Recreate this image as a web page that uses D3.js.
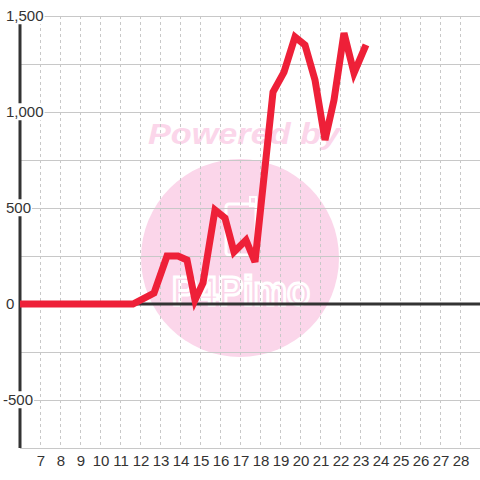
<!DOCTYPE html>
<html>
<head>
<meta charset="utf-8">
<script src="https://cdn.jsdelivr.net/npm/d3@7"></script>
<style>
  body { margin: 0; background: #fff; }
  svg { display: block; font-family: "Liberation Sans", Arial, sans-serif; }
</style>
</head>
<body>
<script>
// data
var xs   = [6, 11.65, 12.7, 13.35, 13.9, 14.35, 14.75, 15.15, 15.75, 16.25, 16.7, 17.3, 17.75,
            18.65, 19.2, 19.75, 20.25, 20.75, 21.25, 21.7, 22.2, 22.7, 23.3];
var vals = [0, 0, 57, 250, 250, 229, 20, 109, 490, 448, 271, 333, 219,
            1104, 1208, 1391, 1349, 1167, 854, 1062, 1411, 1203, 1349];
var xTicks = d3.range(7, 29);              // 7 .. 28
var yLabels = [1500, 1000, 500, 0, -500];
var yGrid = d3.range(-750, 1501, 250);

var width = 480, height = 480;

var svg = d3.select("body").append("svg")
  .attr("width", width)
  .attr("height", height);

var x = d3.scaleLinear().domain([6, 29]).range([20, 480]);
var y = d3.scaleLinear().domain([-750, 1500]).range([448, 16]);

// watermark
var wm = svg.append("g");
wm.append("circle").attr("cx", 240).attr("cy", 258).attr("r", 99).attr("fill", "#fbd6ea");
wm.append("text")
  .attr("x", 148).attr("y", 144)
  .attr("textLength", 192).attr("lengthAdjust", "spacingAndGlyphs")
  .style("font-size", "29px").style("font-weight", "bold").style("font-style", "italic")
  .attr("fill", "#fbd6ea")
  .text("Powered by");
wm.append("rect").attr("x", 226).attr("y", 204).attr("width", 30).attr("height", 51).attr("rx", 3)
  .attr("fill", "none").attr("stroke", "#fff").attr("stroke-width", 3);
wm.append("rect").attr("x", 250).attr("y", 197).attr("width", 6).attr("height", 9)
  .attr("fill", "none").attr("stroke", "#fff").attr("stroke-width", 2);
wm.append("text")
  .attr("x", 172).attr("y", 305)
  .attr("textLength", 138).attr("lengthAdjust", "spacingAndGlyphs")
  .style("font-size", "40px").style("font-weight", "bold")
  .attr("fill", "none").attr("stroke", "#fff").attr("stroke-width", 3)
  .text("P4Pimo");

// grid
svg.append("g").selectAll("line")
  .data(yGrid)
  .enter().append("line")
  .attr("x1", 20).attr("x2", 480)
  .attr("y1", function (d) { return y(d) + 0.5; })
  .attr("y2", function (d) { return y(d) + 0.5; })
  .attr("stroke", "#c8c8c8");

svg.append("g").selectAll("line")
  .data(xTicks)
  .enter().append("line")
  .attr("x1", function (d) { return x(d) + 0.5; })
  .attr("x2", function (d) { return x(d) + 0.5; })
  .attr("y1", 16).attr("y2", 448)
  .attr("stroke", "#c8c8c8")
  .attr("stroke-dasharray", "3,3");

// axes lines
svg.append("line")
  .attr("x1", x(6)).attr("x2", x(6)).attr("y1", 16).attr("y2", 448)
  .attr("stroke", "#333").attr("stroke-width", 3);
svg.append("line")
  .attr("x1", 20).attr("x2", 480).attr("y1", y(0)).attr("y2", y(0))
  .attr("stroke", "#333").attr("stroke-width", 3);

// y labels with white boxes
var fmt = d3.format(",");
var yl = svg.append("g").selectAll("g")
  .data(yLabels)
  .enter().append("g")
  .attr("transform", function (d) { return "translate(" + (d < 0 ? 3 : 6) + "," + y(d) + ")"; });
yl.append("text")
  .attr("dy", "0.35em")
  .style("font-size", "15px")
  .attr("fill", "#333")
  .text(function (d) { return fmt(d).replace("\u2212", "-"); })
  .each(function () {
    var b = this.getBBox();
    d3.select(this.parentNode).insert("rect", "text")
      .attr("x", b.x - 1).attr("y", b.y)
      .attr("width", b.width + 2).attr("height", b.height)
      .attr("fill", "#fff");
  });

// x labels
svg.append("g").selectAll("text")
  .data(xTicks)
  .enter().append("text")
  .attr("x", function (d) { return x(d) + 1; })
  .attr("y", 466)
  .attr("text-anchor", "middle")
  .style("font-size", "15px")
  .attr("fill", "#333")
  .text(function (d) { return d; });

// series line
var line = d3.line()
  .x(function (d, i) { return x(xs[i]); })
  .y(function (d) { return y(d); });

svg.append("path")
  .datum(vals)
  .attr("d", line)
  .attr("fill", "none")
  .attr("stroke", "#ee2038")
  .attr("stroke-width", 7)
  .attr("stroke-linejoin", "miter");
</script>
</body>
</html>
